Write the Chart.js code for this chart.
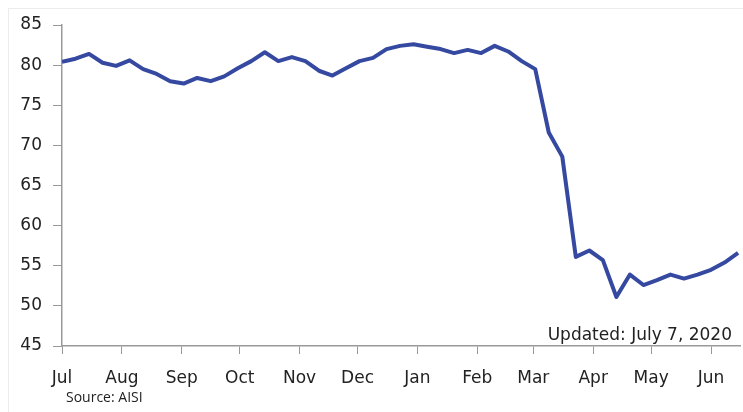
<!DOCTYPE html>
<html>
<head>
<meta charset="utf-8">
<script src="https://cdn.jsdelivr.net/npm/chart.js@4/dist/chart.umd.min.js"></script>
<style>
  html, body { margin: 0; padding: 0; background: #fff; }
  #wrap { position: relative; width: 743px; height: 412px; }
  #frame { position: absolute; left: 8px; top: 8px; width: 740px; height: 410px; border: 1px solid #ececec; box-sizing: border-box; }
  #source { position: absolute; left: 66px; top: 387px; font: 14px "Open Sans", sans-serif; color: #222; }
</style>
</head>
<body>
<div id="wrap">
  <div id="frame"></div>
  <canvas id="chart" width="743" height="412"></canvas>
  <div id="source">Source: AISI</div>
</div>
<script>
// Weekly raw steel capability utilization (%), Jul 2019 - Jul 2020
const utilization = [
  80.4, 80.8, 81.4, 80.3, 79.9, 80.6, 79.5, 78.9, 78.0, 77.7,
  78.4, 78.0, 78.6, 79.6, 80.5, 81.6, 80.5, 81.0, 80.5, 79.3,
  78.7, 79.6, 80.5, 80.9, 82.0, 82.4, 82.6, 82.3, 82.0, 81.5,
  81.9, 81.5, 82.4, 81.7, 80.5, 79.5, 71.6, 68.6, 56.1, 56.9,
  55.7, 51.1, 53.9, 52.6, 53.2, 53.9, 53.4, 53.9, 54.5, 55.4,
  56.6
];
// Month tick labels and their day offsets from Jul 1
const monthLabels = ['Jul', 'Aug', 'Sep', 'Oct', 'Nov', 'Dec', 'Jan', 'Feb', 'Mar', 'Apr', 'May', 'Jun'];
const monthDays = [0, 31, 62, 92, 123, 153, 184, 215, 244, 275, 305, 336];
const yTicks = [45, 50, 55, 60, 65, 70, 75, 80, 85];
const note = 'Updated: July 7, 2020';

const points = utilization.map((v, i) => ({ x: i * 7, y: v }));

// Draws the "Updated" note in the lower right of the plot.
const notePlugin = {
  id: 'note',
  afterDraw(chart) {
    const { ctx, chartArea } = chart;
    ctx.save();
    ctx.font = '17px "DejaVu Sans", sans-serif';
    ctx.fillStyle = '#222';
    ctx.textAlign = 'right';
    ctx.textBaseline = 'alphabetic';
    ctx.fillText(note, chartArea.right - 8, chartArea.bottom - 6);
    ctx.restore();
  }
};

new Chart(document.getElementById('chart'), {
  type: 'line',
  data: {
    datasets: [{
      data: points,
      borderColor: '#3549a0',
      borderWidth: 4,
      pointRadius: 0,
      tension: 0,
      borderJoinStyle: 'round'
    }]
  },
  options: {
    responsive: false,
    animation: false,
    layout: { padding: { left: 0, right: 3, top: 25, bottom: 0 } },
    plugins: { legend: { display: false }, tooltip: { enabled: false } },
    scales: {
      x: {
        type: 'linear',
        min: 0,
        max: 351,
        afterBuildTicks: scale => { scale.ticks = monthDays.map(v => ({ value: v })); },
        afterFit: scale => { scale.height = 66; },
        ticks: {
          autoSkip: false,
          maxRotation: 0,
          padding: 14,
          color: '#222',
          font: { family: '"DejaVu Sans", sans-serif', size: 17 },
          callback: v => monthLabels[monthDays.indexOf(v)]
        },
        grid: { drawOnChartArea: false, tickLength: 8, color: '#999' },
        border: { color: '#999', width: 1.5 }
      },
      y: {
        min: 45,
        max: 85,
        afterBuildTicks: scale => { scale.ticks = yTicks.map(v => ({ value: v })); },
        afterFit: scale => { scale.width = 62; },
        ticks: {
          padding: 11,
          color: '#222',
          font: { family: '"DejaVu Sans", sans-serif', size: 17 }
        },
        grid: { drawOnChartArea: false, tickLength: 9, color: '#999' },
        border: { color: '#999', width: 1.5 }
      }
    }
  },
  plugins: [notePlugin]
});
</script>
</body>
</html>
